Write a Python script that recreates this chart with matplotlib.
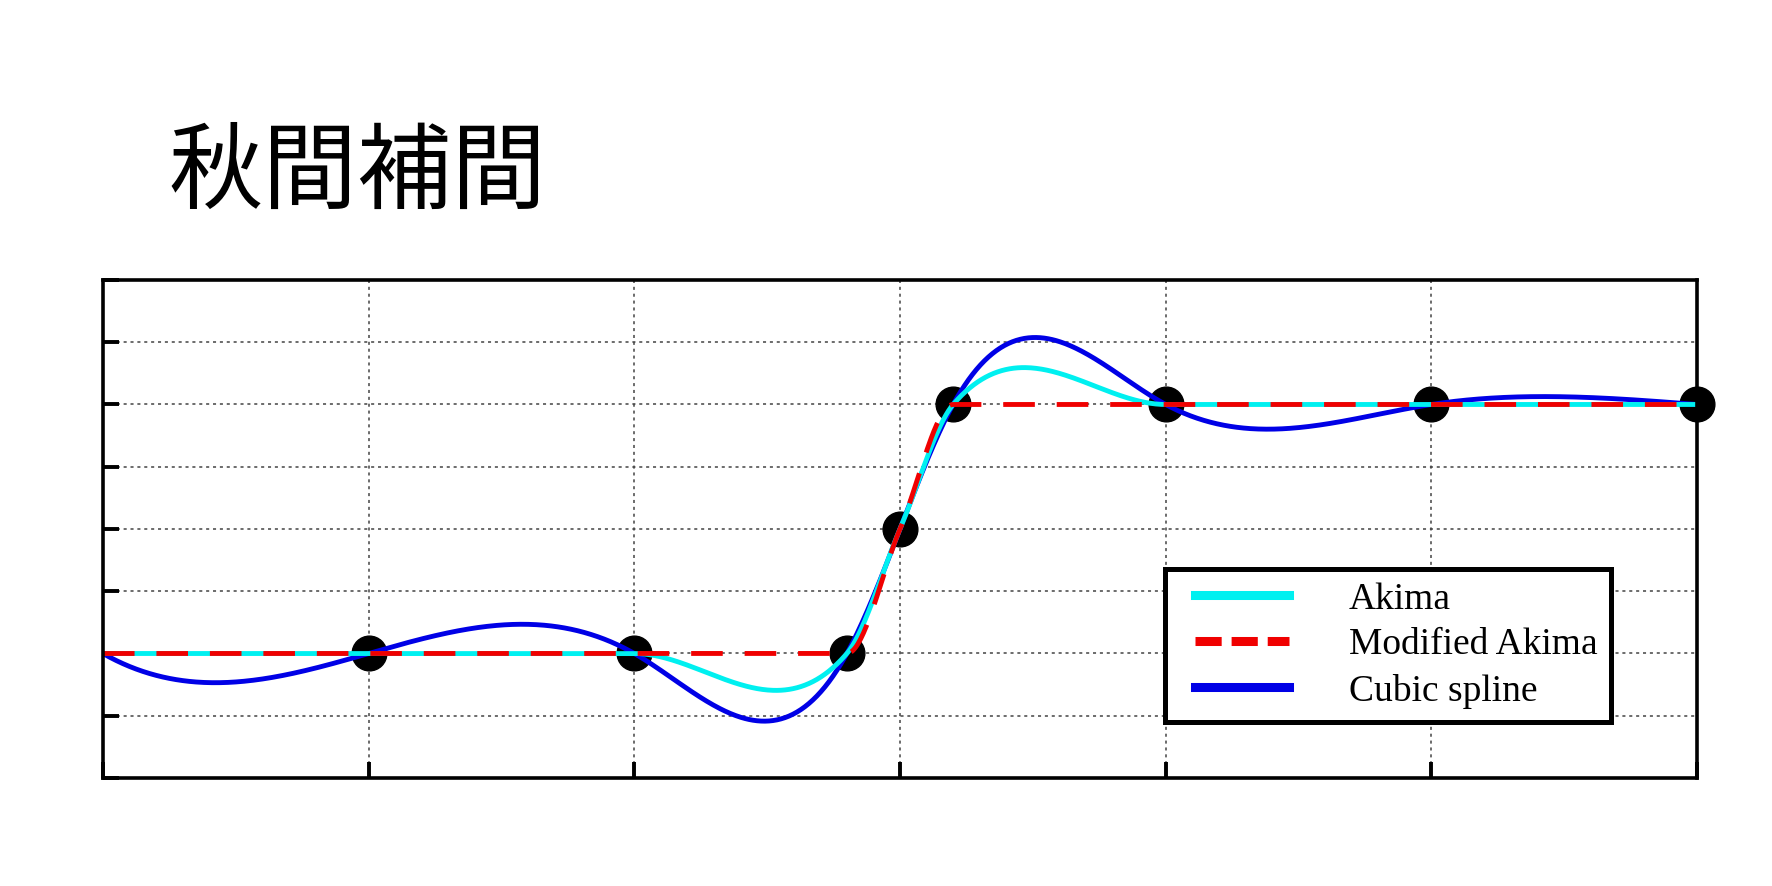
import numpy as np
import matplotlib.pyplot as plt
from matplotlib.lines import Line2D
from matplotlib.legend_handler import HandlerLine2D

# datos: nodos de interpolacion
knot_x = [0.0, 1.0, 2.0, 2.8, 3.0, 3.2, 4.0, 5.0, 6.0]
knot_y = [0.0, 0.0, 0.0, 0.0, 0.5, 1.0, 1.0, 1.0, 1.0]
marker_x = knot_x[1:]
marker_y = knot_y[1:]
title_text = "秋間補間"
legend_labels = ["Akima", "Modified Akima", "Cubic spline"]


def akima_slopes(x, y, modified=False):
    x = np.asarray(x)
    y = np.asarray(y)
    m = np.diff(y) / np.diff(x)
    # extender pendientes en los bordes
    mm = np.concatenate([[3 * m[0] - 2 * m[1], 2 * m[0] - m[1]], m,
                         [2 * m[-1] - m[-2], 3 * m[-1] - 2 * m[-2]]])
    n = len(x)
    t = np.zeros(n)
    for i in range(n):
        m1, m2, m3, m4 = mm[i], mm[i + 1], mm[i + 2], mm[i + 3]
        w1 = abs(m4 - m3)
        w2 = abs(m2 - m1)
        if modified:
            w1 += abs(m4 + m3) / 2
            w2 += abs(m2 + m1) / 2
        if w1 + w2 == 0:
            t[i] = (m2 + m3) / 2
        else:
            t[i] = (w1 * m2 + w2 * m3) / (w1 + w2)
    return t


def spline_slopes(x, y):
    # spline cubico: not-a-knot a la izquierda, natural a la derecha
    x = np.asarray(x)
    y = np.asarray(y)
    n = len(x)
    h = np.diff(x)
    d = np.diff(y) / h
    A = np.zeros((n, n))
    b = np.zeros(n)
    for i in range(1, n - 1):
        A[i, i - 1] = h[i]
        A[i, i] = 2 * (h[i - 1] + h[i])
        A[i, i + 1] = h[i - 1]
        b[i] = 3 * (h[i] * d[i - 1] + h[i - 1] * d[i])
    A[0, 0] = h[1]
    A[0, 1] = x[2] - x[0]
    b[0] = ((h[0] + 2 * (x[2] - x[0])) * h[1] * d[0] + h[0] ** 2 * d[1]) / (x[2] - x[0])
    A[-1, -2] = 1
    A[-1, -1] = 2
    b[-1] = 3 * d[-1]
    return np.linalg.solve(A, b)


def hermite(x, y, s, xq):
    x = np.asarray(x)
    y = np.asarray(y)
    idx = np.clip(np.searchsorted(x, xq) - 1, 0, len(x) - 2)
    h = x[idx + 1] - x[idx]
    t = (xq - x[idx]) / h
    h00 = 2 * t**3 - 3 * t**2 + 1
    h10 = t**3 - 2 * t**2 + t
    h01 = -2 * t**3 + 3 * t**2
    h11 = t**3 - t**2
    return h00 * y[idx] + h10 * h * s[idx] + h01 * y[idx + 1] + h11 * h * s[idx + 1]


xq = np.linspace(knot_x[0], knot_x[-1], 1200)
y_akima = hermite(knot_x, knot_y, akima_slopes(knot_x, knot_y), xq)
y_makima = hermite(knot_x, knot_y, akima_slopes(knot_x, knot_y, modified=True), xq)
y_spline = hermite(knot_x, knot_y, spline_slopes(knot_x, knot_y), xq)

fig = plt.figure(figsize=(17.72, 8.86), dpi=100)
ax = fig.add_axes([0.0581, 0.1219, 0.8996, 0.5621])

c_akima = "#00f0f0"
c_makima = "#f00000"
c_spline = "#0000e6"

ax.plot(marker_x, marker_y, "o", color="black", markersize=25, zorder=2, clip_on=False)
ax.plot(xq, y_spline, color=c_spline, lw=3.5, zorder=3)
ax.plot(xq, y_akima, color=c_akima, lw=3.5, zorder=4)
ax.plot(xq, y_makima, color=c_makima, lw=3.5, dashes=(6.5, 4.5), zorder=5)

ax.set_xlim(0, 6)
ax.set_ylim(-0.5, 1.5)
ax.set_xticks(np.arange(0, 7, 1))
ax.set_yticks(np.arange(-0.5, 1.51, 0.25))
ax.set_xticklabels([])
ax.set_yticklabels([])
ax.tick_params(direction="in", length=11.5, width=2.8, top=False, right=False)
ax.grid(True, color="#444444", linestyle=(0, (2, 2.5)), lw=1.1)
for sp in ax.spines.values():
    sp.set_linewidth(2.6)
    sp.set_zorder(6)

handles = [Line2D([], [], color=c_akima, lw=6.5),
           Line2D([], [], color=c_makima, lw=6.5, dashes=(2.9, 1.1)),
           Line2D([], [], color=c_spline, lw=6.5)]
hmap = {h: HandlerLine2D(marker_pad=0.47, numpoints=2) for h in handles}
leg = ax.legend(handles, legend_labels, loc="upper left", handler_map=hmap,
                bbox_to_anchor=(0.666, 0.4197), borderaxespad=0,
                prop={"family": "Liberation Serif", "size": 27},
                handlelength=3.44, handletextpad=1.13, labelspacing=0.3,
                borderpad=0.35, fancybox=False, framealpha=1)
leg.get_frame().set_edgecolor("black")
leg.get_frame().set_linewidth(3.6)
leg.set_zorder(10)

fig.text(168 / 1772, 1 - 174 / 886, title_text, fontsize=68,
         family=["Noto Sans CJK JP", "DejaVu Sans"], va="center", ha="left")

fig.savefig("out.png", dpi=100)
